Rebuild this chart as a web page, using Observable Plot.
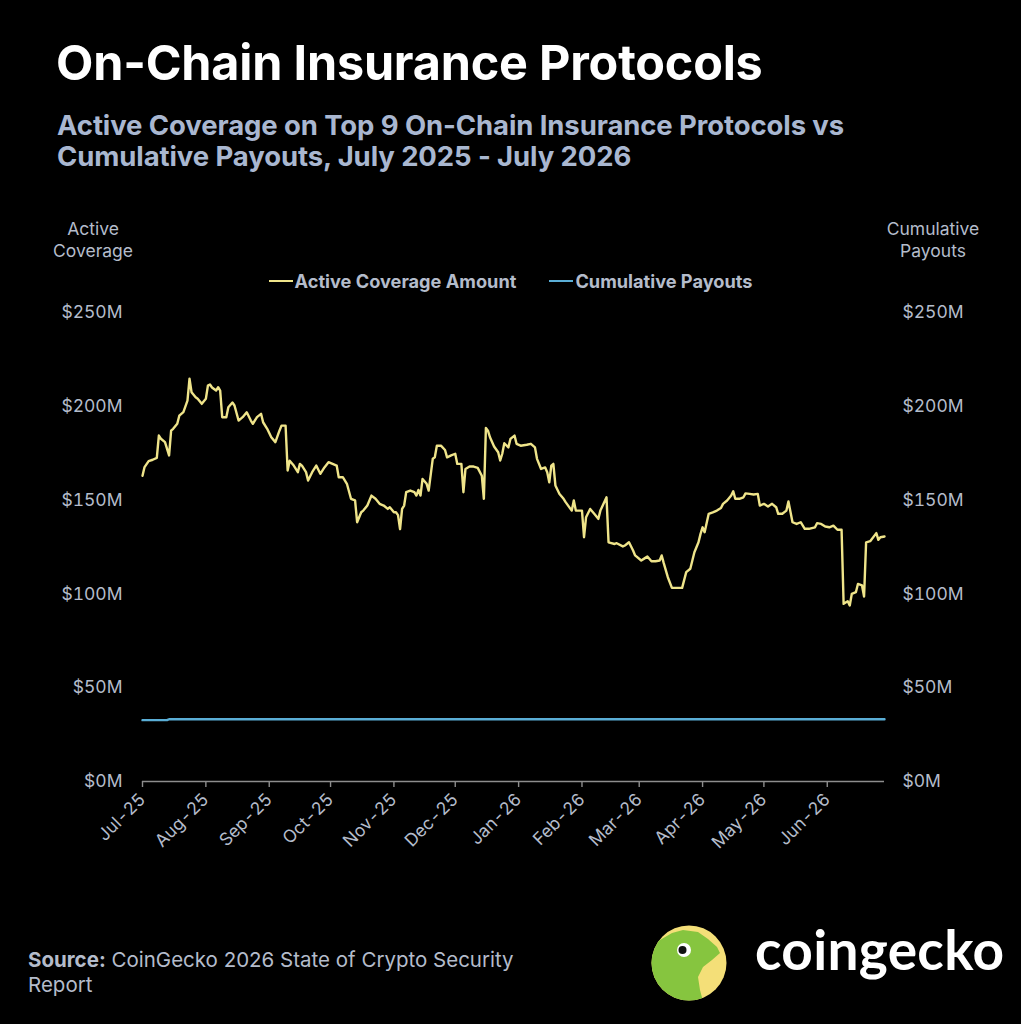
<!DOCTYPE html>
<html><head><meta charset="utf-8">
<script src="https://cdn.jsdelivr.net/npm/d3@7"></script>
<script src="https://cdn.jsdelivr.net/npm/@observablehq/plot@0.6"></script>
<style>
html,body{margin:0;padding:0;background:#000;}
body{width:1021px;height:1024px;overflow:hidden;font-family:Inter,"Noto Sans",sans-serif;}
#wrap{position:relative;width:1021px;height:1024px;background:#000;}
.abs{position:absolute;white-space:nowrap;}
#title{left:56px;top:39px;font-size:48.5px;font-weight:700;color:#ffffff;line-height:1;letter-spacing:-0.2px;}
#subtitle{left:57px;top:110px;font-size:27.5px;font-weight:700;color:#a9b7d0;line-height:31px;letter-spacing:-0.1px;}
.ytitle{font-size:17.5px;color:#b4bccb;line-height:22px;text-align:center;}
#legend{left:0;top:270px;width:1021px;display:flex;justify-content:center;gap:33px;font-size:18.2px;font-weight:700;color:#b4bccb;line-height:22px;}
.li{display:flex;align-items:center;}
.sw{display:inline-block;width:24px;height:2.5px;margin-right:2px;}
#plot{left:0;top:200px;}
#source{left:28px;top:947px;font-size:20.5px;color:#b4bccb;line-height:25px;}
#brand{left:755px;top:922px;font-size:55px;font-weight:700;color:#ffffff;line-height:1;font-family:Lato,"Noto Sans",sans-serif;letter-spacing:0.3px;}
</style></head><body>
<div id="wrap">
  <div class="abs" id="title">On-Chain Insurance Protocols</div>
  <div class="abs" id="subtitle">Active Coverage on Top 9 On-Chain Insurance Protocols vs<br>Cumulative Payouts, July 2025 - July 2026</div>
  <div class="abs ytitle" style="left:43px;top:218px;width:100px;">Active<br>Coverage</div>
  <div class="abs ytitle" style="left:873px;top:218px;width:120px;">Cumulative<br>Payouts</div>
  <div class="abs" id="legend"></div>
  <div class="abs" id="plot"></div>
  <div class="abs" id="source"><b>Source:</b> CoinGecko 2026 State of Crypto Security<br>Report</div>
  <svg class="abs" style="left:640px;top:910px;" width="100" height="100" viewBox="640 910 100 100">
    <defs><clipPath id="cc"><circle cx="689" cy="963" r="37.5"/></clipPath></defs>
    <circle cx="689" cy="963" r="37.5" fill="#f4df78"/>
    <g clip-path="url(#cc)">
      <path d="M640,945 L660,940 L672,933 L683,930 L698,932 L708,939 L717,947 L720,953 L712,960 L703,967 L698,977 L700,990 L704,1005 L640,1005 Z" fill="#86c53f"/>
    </g>
    <circle cx="684" cy="950" r="7" fill="#ffffff"/>
    <circle cx="682.5" cy="950" r="4" fill="#111"/>
  </svg>
  <div class="abs" id="brand">coingecko</div>
</div>
<script>
// ---- data ----
const coverageDates = [
"2025-07-01","2025-07-02","2025-07-04","2025-07-06","2025-07-08","2025-07-09","2025-07-10","2025-07-12","2025-07-14","2025-07-15",
"2025-07-16","2025-07-18","2025-07-19","2025-07-21","2025-07-23","2025-07-24","2025-07-25","2025-07-27","2025-07-28","2025-07-30",
"2025-08-01","2025-08-02","2025-08-03","2025-08-04","2025-08-06","2025-08-07","2025-08-08","2025-08-09","2025-08-11","2025-08-12",
"2025-08-14","2025-08-15","2025-08-17","2025-08-19","2025-08-21","2025-08-23","2025-08-24","2025-08-26","2025-08-28","2025-08-29",
"2025-08-31","2025-09-02","2025-09-04","2025-09-06","2025-09-07","2025-09-09","2025-09-10","2025-09-11","2025-09-13","2025-09-15",
"2025-09-16","2025-09-17","2025-09-19","2025-09-20","2025-09-22","2025-09-24","2025-09-26","2025-09-28","2025-09-30","2025-10-02",
"2025-10-04","2025-10-05","2025-10-07","2025-10-09","2025-10-11","2025-10-13","2025-10-14","2025-10-16","2025-10-17","2025-10-19",
"2025-10-21","2025-10-23","2025-10-25","2025-10-27","2025-10-29","2025-10-30","2025-11-01","2025-11-02","2025-11-03","2025-11-04",
"2025-11-05","2025-11-06","2025-11-07","2025-11-09","2025-11-11","2025-11-12","2025-11-13","2025-11-14","2025-11-15","2025-11-17",
"2025-11-18","2025-11-20","2025-11-21","2025-11-22","2025-11-24","2025-11-26","2025-11-27","2025-11-29","2025-12-01","2025-12-02",
"2025-12-04","2025-12-05","2025-12-06","2025-12-08","2025-12-10","2025-12-12","2025-12-14","2025-12-15","2025-12-16","2025-12-17",
"2025-12-18","2025-12-20","2025-12-22","2025-12-23","2025-12-24","2025-12-25","2025-12-27","2025-12-28","2025-12-30","2025-12-31",
"2026-01-02","2026-01-05","2026-01-07","2026-01-09","2026-01-10","2026-01-12","2026-01-14","2026-01-15","2026-01-16","2026-01-17",
"2026-01-18","2026-01-19","2026-01-21","2026-01-23","2026-01-24","2026-01-27","2026-01-28","2026-01-29","2026-02-01","2026-02-02",
"2026-02-03","2026-02-05","2026-02-07","2026-02-09","2026-02-10","2026-02-13","2026-02-14","2026-02-17","2026-02-18","2026-02-21",
"2026-02-22","2026-02-24","2026-02-26","2026-02-27","2026-03-02","2026-03-04","2026-03-05","2026-03-07","2026-03-09","2026-03-11",
"2026-03-12","2026-03-13","2026-03-15","2026-03-17","2026-03-22","2026-03-24","2026-03-26","2026-03-28","2026-03-30","2026-03-31",
"2026-04-01","2026-04-02","2026-04-04","2026-04-06","2026-04-08","2026-04-10","2026-04-11","2026-04-13","2026-04-15","2026-04-16",
"2026-04-17","2026-04-19","2026-04-21","2026-04-22","2026-04-24","2026-04-26","2026-04-28","2026-04-29","2026-05-01","2026-05-03",
"2026-05-05","2026-05-07","2026-05-08","2026-05-10","2026-05-12","2026-05-13","2026-05-15","2026-05-17","2026-05-19","2026-05-21",
"2026-05-23","2026-05-26","2026-05-27","2026-05-29","2026-05-31","2026-06-02","2026-06-04","2026-06-06","2026-06-08","2026-06-09",
"2026-06-11","2026-06-12","2026-06-13","2026-06-15","2026-06-16","2026-06-18","2026-06-19","2026-06-20","2026-06-22","2026-06-25",
"2026-06-26","2026-06-27","2026-06-29"
];
const coverageValues = [
163,167.6,170.8,171.5,172.5,184.4,182.7,180.9,173.8,187,
188,190.7,195,196.9,203,214.7,207.5,204.8,204,201.3,
204,211,211.6,210,208.4,210.2,208.4,194.2,194.2,199.5,
202,200.4,192.4,194.2,196.8,192.4,190.7,194.2,196,191.5,
188,183.5,180.9,187,189.7,189.7,165.8,171,168.4,164.9,
169.3,168.4,164.9,160.4,164.9,168.4,164,167.4,170.2,169.3,
168.4,162.2,162.2,158.7,150.7,149.8,138.2,143.5,144.4,147.1,
152.4,150.7,148,147.1,145.3,146.2,143.5,143.5,142,134.5,
145.3,147.1,154.2,155.1,154.2,152.4,155.4,152.4,161.3,158.7,
155.1,172,172.8,179,179,176.7,172.8,173.8,174.7,169.3,
169.3,154.2,166.6,167.9,167.9,167.2,163,150.7,188.5,187,
183.5,178.6,175.5,171.1,174.7,180.3,178.1,182.6,184.4,180,
179,179.5,180,178.1,172,166.6,167.4,164.9,159.5,168.4,
169.3,157.8,153.3,150.7,148.9,144.4,149.8,144.4,144.4,130.2,
140.9,145.3,142.7,140,144.4,151.5,127.5,126.6,127,125.3,
125.8,127.5,123.1,120.5,117.8,119.2,119.9,117.4,117.4,117.8,
120.5,116.4,108.9,103.2,103.2,111.6,113.4,122.2,127.5,132,
135.5,132.9,142.7,143.5,144.4,145.8,148,149.8,152.4,154.7,
150.7,150.7,151.5,153.6,153.3,153,153.3,147.1,148,146.6,
148,146.2,142.7,142.7,144.4,149.3,138.2,137.3,138.2,134.7,
134.7,135.5,137.7,137.3,135.9,135.5,136.4,134.2,134.2,94.7,
96.1,93.8,100,100.9,105.3,104.5,98.6,127.5,128.1,132.4,
128.8,130.2,130.6
];
const payoutDates = ["2025-07-01","2025-07-13","2025-07-14","2026-06-29"];
const payoutValues = [32.7,32.7,33.2,33.2];
const yTicks = [0,50,100,150,200,250];
const xTickDates = ["2025-07-01","2025-08-01","2025-09-01","2025-10-01","2025-11-01","2025-12-01",
  "2026-01-01","2026-02-01","2026-03-01","2026-04-01","2026-05-01","2026-06-01"];
const xDomain = ["2025-07-01","2026-06-29"];
const seriesNames = ["Active Coverage Amount","Cumulative Payouts"];
const seriesColors = ["#efe48a","#5aaed6"];

// ---- build ----
const parse = d3.utcParse("%Y-%m-%d");
const coverage = coverageDates.map((d,i)=>({date:parse(d), value:coverageValues[i]}));
const payouts = payoutDates.map((d,i)=>({date:parse(d), value:payoutValues[i]}));
const fmtY = d => `$${d}M`;

const legend = document.getElementById("legend");
seriesNames.forEach((n,i)=>{
  const el = document.createElement("div"); el.className="li";
  el.innerHTML = `<span class="sw" style="background:${seriesColors[i]}"></span><span>${n}</span>`;
  legend.appendChild(el);
});

const chart = Plot.plot({
  width:1021, height:660,
  marginLeft:142, marginRight:137, marginTop:112, marginBottom:79,
  style:{background:"transparent", color:"#b4bccb", fontFamily:"Inter, 'Noto Sans', sans-serif", fontSize:"17.5px", overflow:"visible"},
  x:{type:"utc", domain:xDomain.map(parse)},
  y:{domain:[0,250]},
  marks:[
    Plot.axisY({anchor:"left", ticks:yTicks, tickSize:0, tickPadding:20, tickFormat:fmtY, label:null, fill:"#b4bccb"}),
    Plot.axisY({anchor:"right", ticks:yTicks, tickSize:0, tickPadding:18, tickFormat:fmtY, label:null, fill:"#b4bccb"}),
    Plot.ruleY([0], {stroke:"#8d8d8d", strokeWidth:1.6}),
    Plot.axisX({ticks:xTickDates.map(parse), tickFormat:d3.utcFormat("%b-%y"), tickRotate:-45, tickSize:6, tickPadding:9, stroke:"#8d8d8d", strokeWidth:1.4, fill:"#b4bccb", label:null}),
    Plot.line(payouts, {x:"date", y:"value", stroke:seriesColors[1], strokeWidth:2.4}),
    Plot.line(coverage, {x:"date", y:"value", stroke:seriesColors[0], strokeWidth:2.4, strokeLinejoin:"round"})
  ]
});
document.getElementById("plot").appendChild(chart);
</script>
</body></html>
